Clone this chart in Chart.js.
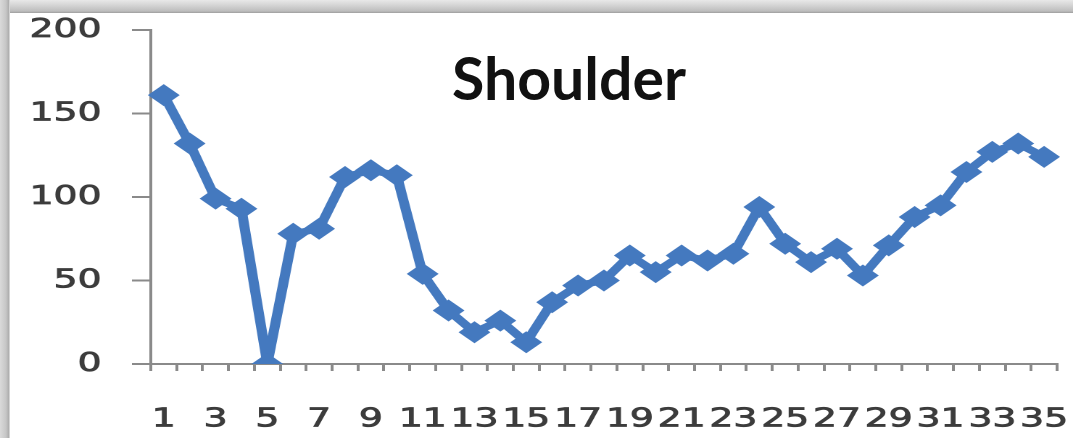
<!DOCTYPE html>
<html>
<head>
<meta charset="utf-8">
<script src="https://cdn.jsdelivr.net/npm/chart.js@4/dist/chart.umd.min.js"></script>
<style>
  html, body { margin: 0; padding: 0; background: #ffffff; }
  body { width: 1073px; height: 438px; position: relative; overflow: hidden; }
  #wrap { position: absolute; left: 0; top: 0; width: 740px; height: 438px;
          transform: scaleX(1.45); transform-origin: 0 0; }
  #chart { display: block; }
  .frame-top { position: absolute; left: 0; top: 0; width: 1073px; height: 13px;
               background: linear-gradient(#e8e8e8, #d2d2d2 45%, #bdbdbd 85%, #9e9e9e); z-index: 2; }
  .frame-left { position: absolute; left: 0; top: 0; width: 10px; height: 438px;
                background: linear-gradient(to right, #dadada, #c6c6c6 60%, #b0b0b0 85%, #e6e6e6); z-index: 2; }
  .title { position: absolute; left: 569px; top: 48px; transform: translateX(-50%);
           font-family: Lato, "Open Sans", sans-serif; font-weight: 700; font-size: 59px;
           line-height: 1; color: #111111; white-space: nowrap; z-index: 3; }
</style>
</head>
<body>
<div class="frame-top"></div>
<div class="frame-left"></div>
<div class="title">Shoulder</div>
<div id="wrap"><canvas id="chart" width="740" height="438"></canvas></div>
<script>
// Session numbers along the x axis
const sessions = [1,2,3,4,5,6,7,8,9,10,11,12,13,14,15,16,17,18,19,20,
                  21,22,23,24,25,26,27,28,29,30,31,32,33,34,35];
// Shoulder measurements per session
const shoulder = [161,132,99,93,0,78,81,112,116,113,54,32,19,26,13,37,47,50,65,55,
                  65,62,66,94,72,61,69,53,71,88,95,115,127,132,124];
// Value axis
const yMin = 0;
const yMax = 200;
const yStep = 50;

const axisGray = '#8a8a8a';
const labelGray = '#3c3c3c';
const tickFont = { family: '"DejaVu Sans", Verdana, sans-serif', size: 26 };

new Chart(document.getElementById('chart'), {
  type: 'line',
  data: {
    labels: sessions.map(String),
    datasets: [{
      label: 'Shoulder',
      data: shoulder,
      borderColor: '#4479bf',
      backgroundColor: '#4479bf',
      borderWidth: 7,
      pointStyle: 'rectRot',
      pointRadius: 11,
      pointHoverRadius: 11,
      pointBorderWidth: 0,
      tension: 0
    }]
  },
  options: {
    responsive: false,
    animation: false,
    devicePixelRatio: 2,
    layout: { padding: { top: 30, right: 10.3, left: 0, bottom: 0 } },
    plugins: { legend: { display: false }, tooltip: { enabled: false }, title: { display: false } },
    scales: {
      x: {
        type: 'category',
        offset: true,
        grid: { offset: true, drawOnChartArea: false, drawTicks: true, tickLength: 7,
                color: axisGray, lineWidth: 2 },
        border: { display: true, color: axisGray, width: 2 },
        ticks: {
          autoSkip: false, maxRotation: 0, minRotation: 0, padding: 33,
          color: labelGray, font: tickFont, textStrokeColor: labelGray, textStrokeWidth: 0.8,
          callback: (v, i) => (i % 2 === 0 ? sessions[i] : '')
        },
        afterFit: (s) => { s.height = 74; s.paddingLeft = 0; s.paddingRight = 0; }
      },
      y: {
        min: yMin, max: yMax,
        grid: { drawOnChartArea: false, drawTicks: true, tickLength: 13,
                color: axisGray, lineWidth: 2 },
        border: { display: true, color: axisGray, width: 2 },
        ticks: { stepSize: yStep, padding: 21, color: labelGray, font: tickFont,
                 textStrokeColor: labelGray, textStrokeWidth: 0.8 },
        afterFit: (s) => { s.width = 104; s.paddingTop = 0; s.paddingBottom = 0; }
      }
    }
  }
});
</script>
</body>
</html>
